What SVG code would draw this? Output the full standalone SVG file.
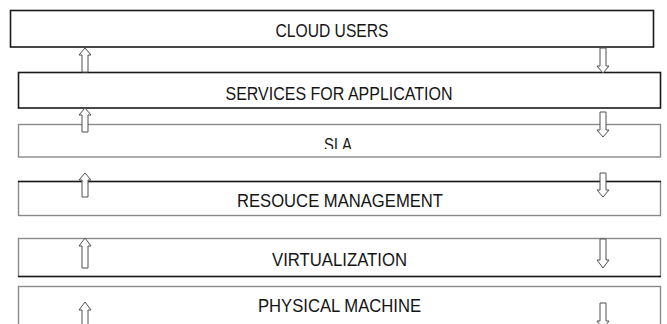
<svg xmlns="http://www.w3.org/2000/svg" width="667" height="324" viewBox="0 0 667 324">
  <style>
    .layer { fill: #ffffff; }
    .dark { stroke: #1a1a1a; stroke-width: 1.6; }
    .grey { stroke: #8a8a8a; stroke-width: 1.4; }
    .label { font-family: "Liberation Sans", Arial, sans-serif; font-size: 19px; fill: #141414; text-anchor: middle; }
    .arrow { fill: #ffffff; stroke: #505050; stroke-width: 1; stroke-linejoin: miter; }
  </style>
  <defs>
    <clipPath id="slaClip"><rect x="0" y="120" width="667" height="29"/></clipPath>
  </defs>

  <rect width="667" height="324" fill="#ffffff"/>

  <!-- layer stack, top to bottom -->
  <g id="cloud-users">
    <rect class="layer dark" x="10.5" y="10.5" width="643" height="36.5"/>
    <text class="label" x="332" y="37" textLength="113" lengthAdjust="spacingAndGlyphs">CLOUD USERS</text>
  </g>

  <g id="services-for-application">
    <rect class="layer dark" x="18.5" y="72.5" width="642" height="35.5"/>
    <text class="label" x="339" y="100" textLength="227" lengthAdjust="spacingAndGlyphs">SERVICES FOR APPLICATION</text>
  </g>

  <g id="sla">
    <rect class="layer grey" x="18.5" y="124.5" width="642" height="32.5"/>
    <text class="label" x="338" y="151" textLength="28" lengthAdjust="spacingAndGlyphs" clip-path="url(#slaClip)">SLA</text>
  </g>

  <g id="resource-management">
    <rect class="layer grey" x="18.5" y="181.5" width="642" height="34"/>
    <line class="dark" x1="18" y1="181.5" x2="661" y2="181.5"/>
    <text class="label" x="340" y="207" textLength="206" lengthAdjust="spacingAndGlyphs">RESOUCE MANAGEMENT</text>
  </g>

  <g id="virtualization">
    <rect class="layer grey" x="18.5" y="238.5" width="642" height="38"/>
    <line class="dark" x1="18" y1="276.5" x2="661" y2="276.5"/>
    <text class="label" x="339.5" y="266" textLength="135" lengthAdjust="spacingAndGlyphs">VIRTUALIZATION</text>
  </g>

  <g id="physical-machine">
    <rect class="layer grey" x="18.5" y="286.5" width="642" height="50"/>
    <text class="label" x="339.5" y="312" textLength="163" lengthAdjust="spacingAndGlyphs">PHYSICAL MACHINE</text>
  </g>

  <!-- block arrows: upward on the left, downward on the right -->
  <g id="connectors">
    <polygon class="arrow" points="85,48 91,55 88,55 88,72 82,72 82,55 79,55"/>
    <polygon class="arrow" points="85,108 91,115 88,115 88,132 82,132 82,115 79,115"/>
    <polygon class="arrow" points="85,173 91,180 88,180 88,197 82,197 82,180 79,180"/>
    <polygon class="arrow" points="85,238 91,246 88,246 88,268 82,268 82,246 79,246"/>
    <polygon class="arrow" points="85,302 91,310 88,310 88,330 82,330 82,310 79,310"/>

    <polygon class="arrow" points="600,48 606,48 606,66 609,66 603,73 597,66 600,66"/>
    <polygon class="arrow" points="600,112 606,112 606,130 609,130 603,137 597,130 600,130"/>
    <polygon class="arrow" points="600,173 606,173 606,190 609,190 603,197 597,190 600,190"/>
    <polygon class="arrow" points="600,239 606,239 606,260 609,260 603,268 597,260 600,260"/>
    <polygon class="arrow" points="600,303 606,303 606,321 609,321 603,329 597,321 600,321"/>
  </g>
</svg>
